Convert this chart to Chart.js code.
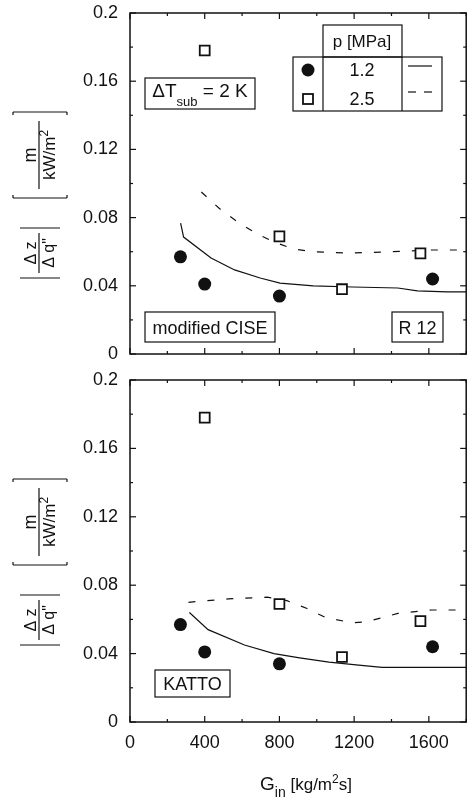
<!DOCTYPE html>
<html>
<head>
<meta charset="utf-8">
<script src="https://cdn.jsdelivr.net/npm/chart.js@4.4.0/dist/chart.umd.min.js"></script>
<style>
  body { margin: 0; background: #fff; width: 475px; height: 799px; overflow: hidden; position: relative; }
  canvas { position: absolute; left: 0; }
  #cTop { top: 0; }
  #cBot { top: 365px; }
</style>
</head>
<body>
<canvas id="cTop" width="475" height="370"></canvas>
<canvas id="cBot" width="475" height="434"></canvas>
<script>
// axis ticks
const xLabels = [0, 400, 800, 1200, 1600];
const yLabels = [0, 0.04, 0.08, 0.12, 0.16, 0.2];
const xTickMarks = [0, 200, 400, 600, 800, 1000, 1200, 1400, 1600, 1800];
const yTickMarks = [0, 0.02, 0.04, 0.06, 0.08, 0.1, 0.12, 0.14, 0.16, 0.18, 0.2];
const pressures = ['1.2', '2.5'];

// measurements (same in both panels)
const gExp12 = [270, 400, 800, 1620];
const dzExp12 = [0.057, 0.041, 0.034, 0.044];
const gExp25 = [400, 800, 1135, 1555];
const dzExp25 = [0.178, 0.069, 0.038, 0.059];

// modified CISE
const gCise12 = [271, 287, 434, 560, 697, 803, 981, 1192, 1434, 1539, 1697, 1800];
const dzCise12 = [0.0768, 0.0686, 0.0563, 0.0493, 0.0446, 0.0416, 0.040, 0.0393, 0.0387, 0.037, 0.0364, 0.0364];
const gCise25 = [382, 487, 576, 671, 771, 876, 981, 1171, 1350, 1613, 1800];
const dzCise25 = [0.095, 0.0845, 0.0775, 0.071, 0.0657, 0.0616, 0.060, 0.0592, 0.0598, 0.061, 0.061];

// KATTO
const gKatto12 = [318, 418, 613, 771, 908, 1066, 1224, 1350, 1800];
const dzKatto12 = [0.064, 0.054, 0.045, 0.040, 0.0375, 0.035, 0.0333, 0.032, 0.032];
const gKatto25 = [313, 526, 734, 840, 945, 1050, 1192, 1260, 1350, 1434, 1613, 1800];
const dzKatto25 = [0.070, 0.072, 0.073, 0.071, 0.0665, 0.061, 0.058, 0.0585, 0.061, 0.0635, 0.0655, 0.0655];

const FONT = '"Liberation Sans", Arial, sans-serif';
const INK = '#111';

const pts = (xs, ys) => xs.map((x, i) => ({ x: x, y: ys[i] }));

function drawRich(ctx, parts, x, y, align) {
    let w = 0;
    parts.forEach(p => { ctx.font = p[1] + 'px ' + FONT; w += ctx.measureText(p[0]).width; });
    let cx = align === 'center' ? x - w / 2 : x;
    ctx.textAlign = 'left';
    ctx.textBaseline = 'alphabetic';
    parts.forEach(p => {
        ctx.font = p[1] + 'px ' + FONT;
        ctx.fillText(p[0], cx, y + (p[2] || 0));
        cx += ctx.measureText(p[0]).width;
    });
}

function seg(ctx, x1, y1, x2, y2) {
    ctx.beginPath(); ctx.moveTo(x1, y1); ctx.lineTo(x2, y2); ctx.stroke();
}

// rotated |Δz/Δq''| [m / kW/m²]
function drawYTitle(ctx, cx, cy) {
    ctx.save();
    ctx.translate(cx, cy);
    ctx.rotate(-Math.PI / 2);
    ctx.lineWidth = 1.2;
    // square brackets
    seg(ctx, 83, -27, 83, 27); seg(ctx, 83, -27, 80, -27); seg(ctx, 83, 27, 80, 27);
    seg(ctx, -3, -27, -3, 27); seg(ctx, -3, -27, 0, -27); seg(ctx, -3, 27, 0, 27);
    drawRich(ctx, [['m', 18]], 40, -4, 'center');
    seg(ctx, 6, -1, 74, -1);
    drawRich(ctx, [['kW/m', 17], ['2', 12, -7]], 40, 15, 'center');
    // absolute value bars
    seg(ctx, -33, -20, -33, 20);
    seg(ctx, -83, -20, -83, 20);
    drawRich(ctx, [['\u0394 z', 16]], -58, -4, 'center');
    seg(ctx, -38, -1, -78, -1);
    drawRich(ctx, [['\u0394 q"', 16]], -58, 14, 'center');
    ctx.restore();
}

function drawBox(ctx, b) {
    ctx.lineWidth = 1.2;
    ctx.strokeRect(b.x, b.y, b.w, b.h);
    drawRich(ctx, b.parts, b.x + b.w / 2, b.base, 'center');
}

function drawLegend(ctx) {
    ctx.lineWidth = 1.2;
    ctx.strokeRect(323, 25, 79, 32);
    ctx.strokeRect(293, 57, 149, 54);
    seg(ctx, 323, 57, 323, 111);
    seg(ctx, 402, 57, 402, 111);
    drawRich(ctx, [['p [MPa]', 17]], 362, 47, 'center');
    drawRich(ctx, [[pressures[0], 18]], 362, 76, 'center');
    drawRich(ctx, [[pressures[1], 18]], 362, 105, 'center');
    ctx.beginPath(); ctx.arc(308, 70, 6.5, 0, Math.PI * 2); ctx.fill();
    ctx.lineWidth = 1.8;
    ctx.strokeRect(303, 94, 10, 10);
    ctx.lineWidth = 1.2;
    seg(ctx, 408, 66, 432, 66);
    seg(ctx, 408, 92, 416, 92);
    seg(ctx, 424, 92, 432, 92);
}

const panelDecor = {
    id: 'panelDecor',
    afterDatasetsDraw(chart, args, o) {
        const { ctx, chartArea: a, scales: { x, y } } = chart;
        ctx.save();
        ctx.strokeStyle = INK;
        ctx.fillStyle = INK;
        ctx.lineWidth = 1.5;
        ctx.strokeRect(a.left, a.top, a.right - a.left, a.bottom - a.top);
        ctx.lineWidth = 1.2;
        xTickMarks.forEach((v, i) => {
            const px = x.getPixelForValue(v);
            const len = i % 2 === 0 ? 6 : 3;
            seg(ctx, px, a.bottom, px, a.bottom - len);
            seg(ctx, px, a.top, px, a.top + len);
        });
        yTickMarks.forEach((v, i) => {
            const py = y.getPixelForValue(v);
            const len = i % 2 === 0 ? 6 : 3;
            seg(ctx, a.left, py, a.left + len, py);
            seg(ctx, a.right, py, a.right - len, py);
        });
        o.boxes.forEach(b => drawBox(ctx, b));
        if (o.legend) drawLegend(ctx);
        drawYTitle(ctx, 40, a.top + 182);
        if (o.xTitle) {
            drawRich(ctx, [['G', 19], ['in', 14, 7], [' [kg/m', 17], ['2', 12, -7], ['s]', 17]], 306, a.bottom + 68, 'center');
        }
        ctx.restore();
    }
};

function makePanel(id, g12, dz12, g25, dz25, decor, showX, pad) {
    new Chart(document.getElementById(id), {
        type: 'scatter',
        data: {
            datasets: [
                {
                    data: pts(gExp12, dzExp12), order: 0,
                    pointStyle: 'circle', pointRadius: 6.5, pointHoverRadius: 6.5,
                    backgroundColor: INK, borderColor: INK, borderWidth: 0
                },
                {
                    data: pts(gExp25, dzExp25), order: 0,
                    pointStyle: 'rect', pointRadius: 7, pointHoverRadius: 7,
                    backgroundColor: '#fff', borderColor: INK, borderWidth: 1.8
                },
                {
                    data: pts(g12, dz12), order: 1, showLine: true,
                    pointRadius: 0, borderColor: INK, borderWidth: 1.2, tension: 0
                },
                {
                    data: pts(g25, dz25), order: 1, showLine: true,
                    pointRadius: 0, borderColor: INK, borderWidth: 1.2, tension: 0,
                    borderDash: [7, 12]
                }
            ]
        },
        options: {
            responsive: false,
            animation: false,
            events: [],
            layout: { padding: pad },
            plugins: { legend: { display: false }, tooltip: { enabled: false }, panelDecor: decor },
            scales: {
                x: {
                    type: 'linear', min: 0, max: 1800, display: showX,
                    grid: { display: false, drawTicks: false }, border: { display: false },
                    afterBuildTicks: s => { s.ticks = xLabels.map(v => ({ value: v })); },
                    afterFit: s => { s.height = showX ? 77 : 0; },
                    ticks: {
                        color: INK, font: { family: FONT, size: 18 }, padding: 10,
                        callback: v => String(v)
                    }
                },
                y: {
                    min: 0, max: 0.2,
                    grid: { display: false, drawTicks: false }, border: { display: false },
                    afterBuildTicks: s => { s.ticks = yLabels.map(v => ({ value: v })); },
                    afterFit: s => { s.width = 130; },
                    ticks: {
                        // tiny lineHeight keeps the label half-height out of the layout padding
                        color: INK, font: { family: FONT, size: 18, lineHeight: 0.05 }, padding: 12,
                        callback: v => String(+v.toFixed(2))
                    }
                }
            }
        },
        plugins: [panelDecor]
    });
}

makePanel('cTop', gCise12, dzCise12, gCise25, dzCise25, {
    legend: true, xTitle: false,
    boxes: [
        { x: 145, y: 78, w: 110, h: 31, base: 97, parts: [['\u0394T', 19], ['sub', 13, 9], [' = 2 K', 19]] },
        { x: 145, y: 312, w: 130, h: 30, base: 334, parts: [['modified CISE', 18]] },
        { x: 392, y: 312, w: 51, h: 30, base: 334, parts: [['R 12', 18]] }
    ]
}, false, { top: 13, bottom: 16, left: 0, right: 2 });

makePanel('cBot', gKatto12, dzKatto12, gKatto25, dzKatto25, {
    legend: false, xTitle: true,
    boxes: [
        { x: 155, y: 305, w: 75, h: 27, base: 325, parts: [['KATTO', 18]] }
    ]
}, true, { top: 15, bottom: 0, left: 0, right: 2 });
</script>
</body>
</html>
